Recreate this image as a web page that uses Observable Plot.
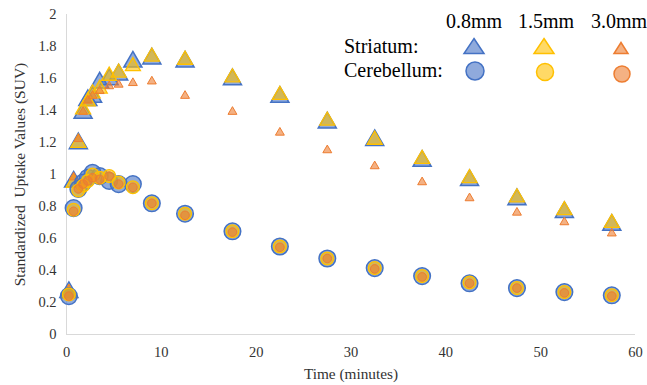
<!DOCTYPE html>
<html>
<head>
<meta charset="utf-8">
<script src="https://cdn.jsdelivr.net/npm/d3@7"></script>
<script src="https://cdn.jsdelivr.net/npm/@observablehq/plot@0.6"></script>
<style>
  html, body { margin: 0; padding: 0; background: #fff; }
  #wrap { position: relative; width: 647px; height: 385px; font-family: 'Liberation Serif', 'Times New Roman', serif; }
  #legend { position: absolute; left: 0; top: 0; pointer-events: none; font-family: 'Liberation Serif', 'Times New Roman', serif; }
  #chart svg, #chart svg text { font-family: 'Liberation Serif', 'Times New Roman', serif !important; }
</style>
</head>
<body>
<div id="wrap"><div id="chart"></div><svg id="legend" width="647" height="100"></svg></div>
<script>
// ---- Data ----
const times = [0.25, 0.75, 1.25, 1.75, 2.25, 2.75, 3.5, 4.5, 5.5, 7, 9, 12.5, 17.5, 22.5, 27.5, 32.5, 37.5, 42.5, 47.5, 52.5, 57.5];

const striatum08 = [0.28, 0.97, 1.21, 1.40, 1.48, 1.50, 1.59, 1.61, 1.64, 1.72, 1.74, 1.72, 1.61, 1.50, 1.34, 1.23, 1.10, 0.98, 0.86, 0.78, 0.70];
const striatum15 = [0.27, 0.96, 1.21, 1.42, 1.47, 1.52, 1.55, 1.63, 1.65, 1.69, 1.75, 1.73, 1.62, 1.51, 1.35, 1.23, 1.11, 0.99, 0.87, 0.79, 0.71];
const striatum30 = [0.29, 0.99, 1.23, 1.40, 1.47, 1.50, 1.53, 1.56, 1.57, 1.58, 1.59, 1.50, 1.40, 1.27, 1.16, 1.06, 0.96, 0.86, 0.77, 0.71, 0.64];

const cerebellum08 = [0.24, 0.79, 0.91, 0.95, 0.98, 1.01, 0.99, 0.96, 0.94, 0.94, 0.82, 0.755, 0.645, 0.55, 0.475, 0.415, 0.365, 0.32, 0.29, 0.265, 0.245];
const cerebellum15 = [0.25, 0.78, 0.90, 0.93, 0.96, 1.00, 0.98, 0.99, 0.95, 0.92, 0.82, 0.755, 0.645, 0.55, 0.475, 0.415, 0.365, 0.325, 0.29, 0.265, 0.245];
const cerebellum30 = [0.24, 0.77, 0.91, 0.94, 0.96, 0.98, 0.97, 0.99, 0.94, 0.92, 0.82, 0.745, 0.64, 0.545, 0.475, 0.41, 0.36, 0.32, 0.29, 0.26, 0.24];

const resolutions = ["0.8mm", "1.5mm", "3.0mm"];
const regions = ["Striatum:", "Cerebellum:"];
const xTicks = [0, 10, 20, 30, 40, 50, 60];
const yTicks = [0, 0.2, 0.4, 0.6, 0.8, 1, 1.2, 1.4, 1.6, 1.8, 2];
const xLabel = "Time (minutes)";
const yLabel = "Standardized  Uptake Values (SUV)";

// ---- Styles ----
const serif = "'Liberation Serif', 'Times New Roman', serif";
const colors = ["#4472C4", "#FFC000", "#ED7D31"];
const triR = [6.7, 5.6, 3.3];
const circR = [8.3, 6.4, 4.3];
const strokeW = [1.5, 1.3, 1];

const rows = arr => times.map((t, i) => ({t, v: arr[i]}));
const triDy = r => Math.sqrt(Math.PI * r * r / (3 * Math.sqrt(3))) / 2;

const striatum = [striatum08, striatum15, striatum30];
const cerebellum = [cerebellum08, cerebellum15, cerebellum30];

const marks = [
  Plot.ruleX([0], {stroke: "#d9d9d9", strokeWidth: 1}),
  Plot.ruleY([0], {stroke: "#d9d9d9", strokeWidth: 1}),
  Plot.axisX({ticks: xTicks, tickSize: 0, tickPadding: 12, fontSize: 14.5, label: null, fill: "#333"}),
  Plot.axisX({ticks: [], tickSize: 0, fontSize: 15.3, label: xLabel, labelAnchor: "center", labelArrow: "none", labelOffset: 44, fill: "#333"}),
  Plot.axisY({ticks: yTicks, tickSize: 0, tickPadding: 10, fontSize: 14.5, tickFormat: d3.format("~g"), label: null, fill: "#333"}),
  Plot.axisY({ticks: [], tickSize: 0, fontSize: 15.5, label: yLabel, labelAnchor: "center", labelArrow: "none", labelOffset: 53, fill: "#333"})
];
for (let k = 0; k < 3; k++) {
  marks.push(Plot.dot(rows(striatum[k]), {x: "t", y: "v", symbol: "triangle", r: triR[k], dy: triDy(triR[k]),
    fill: colors[k], fillOpacity: 0.6, stroke: colors[k], strokeWidth: strokeW[k]}));
}
for (let k = 0; k < 3; k++) {
  marks.push(Plot.dot(rows(cerebellum[k]), {x: "t", y: "v", symbol: "circle", r: circR[k],
    fill: colors[k], fillOpacity: 0.6, stroke: colors[k], strokeWidth: strokeW[k]}));
}

const chart = Plot.plot({
  width: 647,
  height: 385,
  marginLeft: 66,
  marginRight: 12,
  marginTop: 14,
  marginBottom: 51,
  style: {fontFamily: serif, fontSize: "14px", background: "#fff", color: "#333"},
  x: {domain: [0, 60]},
  y: {domain: [0, 2]},
  marks
});
document.getElementById("chart").appendChild(chart);

// ---- Legend overlay ----
const lg = d3.select("#legend");
const colX = [474, 546, 619];
resolutions.forEach((r, i) => {
  lg.append("text").attr("x", colX[i]).attr("y", 28).attr("text-anchor", "middle")
    .attr("font-family", serif).attr("font-size", 20).attr("fill", "#000").text(r);
});
regions.forEach((r, j) => {
  lg.append("text").attr("x", 344).attr("y", 53 + j * 24)
    .attr("font-family", serif).attr("font-size", 20).attr("fill", "#000").text(r);
});
const legTri = [[20, 15], [20, 15], [14, 11]];
const legCirc = [9, 8.5, 8];
const legTriY = [46, 46, 48];
const legCircY = [71, 72, 74];
const legX = [474, 544, 621];
resolutions.forEach((r, i) => {
  const [w, h] = legTri[i];
  const cx = legX[i], cy = legTriY[i];
  lg.append("path")
    .attr("d", `M${cx},${cy - h / 2}L${cx + w / 2},${cy + h / 2}L${cx - w / 2},${cy + h / 2}Z`)
    .attr("fill", colors[i]).attr("fill-opacity", 0.6).attr("stroke", colors[i]).attr("stroke-width", 1.5);
  lg.append("circle").attr("cx", cx + 1).attr("cy", legCircY[i]).attr("r", legCirc[i])
    .attr("fill", colors[i]).attr("fill-opacity", 0.6).attr("stroke", colors[i]).attr("stroke-width", 1.5);
});
</script>
</body>
</html>
